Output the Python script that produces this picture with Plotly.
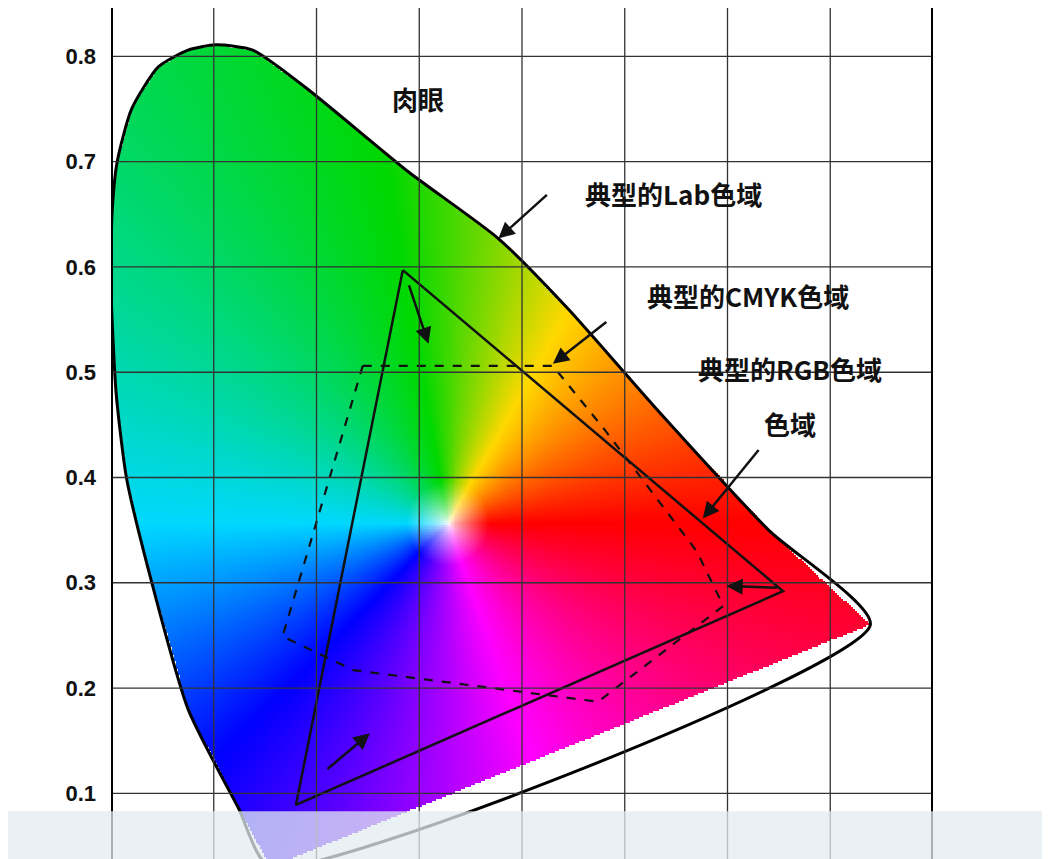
import numpy as np
import plotly.graph_objects as go

# spectral locus (x, y chromaticity)
locus_x = [0.155, 0.124, 0.075, 0.036, 0.015, 0.005, 0.000, 0.001, 0.006, 0.020, 0.046, 0.075,
           0.102, 0.138, 0.190, 0.290, 0.377, 0.445, 0.530, 0.640, 0.739]
locus_y = [0.030, 0.086, 0.180, 0.314, 0.400, 0.480, 0.580, 0.650, 0.700, 0.750, 0.790, 0.806,
           0.811, 0.806, 0.770, 0.690, 0.627, 0.560, 0.466, 0.350, 0.260]

rgb_x = [0.284, 0.654, 0.180, 0.284]
rgb_y = [0.597, 0.292, 0.089, 0.597]

cmyk_x = [0.245, 0.430, 0.480, 0.570, 0.596, 0.474, 0.236, 0.167, 0.245]
cmyk_y = [0.506, 0.506, 0.446, 0.330, 0.278, 0.187, 0.217, 0.249, 0.506]

white_x, white_y = 0.328, 0.356

# colour fill: hue by angle around the white point, clipped to the locus
nx, ny = 420, 430
x0, x1, y0, y1 = 0.0, 0.8, 0.03, 0.846
dx = (x1 - x0) / nx
dy = (y1 - y0) / ny
gx, gy = np.meshgrid(x0 + dx * (np.arange(nx) + 0.5), y0 + dy * (np.arange(ny) + 0.5))

px = np.array(locus_x + [locus_x[0]])
py = np.array(locus_y + [locus_y[0]])
inside = np.zeros(gx.shape, bool)
for i in range(len(px) - 1):
    xa, ya, xb, yb = px[i], py[i], px[i + 1], py[i + 1]
    cond = (ya > gy) != (yb > gy)
    xint = xa + (gy - ya) * (xb - xa) / (yb - ya + 1e-12)
    inside ^= cond & (gx < xint)

ang = np.degrees(np.arctan2(gy - white_y, gx - white_x)) % 360
hue = np.interp(ang, [0, 60, 100, 180, 225, 290, 360], [0, 60, 120, 180, 240, 300, 360]) % 360
sat = np.clip(np.hypot(gx - white_x, gy - white_y) / 0.04, 0, 1) ** 0.7
h6 = hue / 60.0
c = sat
xx = c * (1 - np.abs(h6 % 2 - 1))
m = 1 - c
r = np.select([h6 < 1, h6 < 2, h6 < 3, h6 < 4, h6 < 5], [c, xx, 0, 0, xx], c)
g = np.select([h6 < 1, h6 < 2, h6 < 3, h6 < 4, h6 < 5], [xx, c, c, xx, 0], 0)
b = np.select([h6 < 1, h6 < 2, h6 < 3, h6 < 4, h6 < 5], [0, 0, xx, c, c], xx)
img = np.stack([r + m, g * 0.85 + m, b + m], -1) * 255
img[~inside] = 255
img = np.clip(img, 0, 255).astype(np.uint8)

fig = go.Figure()
fig.add_trace(go.Image(z=img, x0=x0 + dx / 2, dx=dx, y0=y0 + dy / 2, dy=dy, hoverinfo="skip"))
fig.add_trace(go.Scatter(x=locus_x + [locus_x[0]], y=locus_y + [locus_y[0]], mode="lines",
                         line=dict(color="black", width=3, shape="spline", smoothing=0.6),
                         hoverinfo="skip"))
fig.add_trace(go.Scatter(x=rgb_x, y=rgb_y, mode="lines", line=dict(color="#111", width=2.5)))
fig.add_trace(go.Scatter(x=cmyk_x, y=cmyk_y, mode="lines",
                         line=dict(color="#111", width=2.2, dash="dash")))

# grid over the colours
for v in np.arange(1, 8) / 10:
    fig.add_shape(type="line", x0=v, x1=v, y0=y0, y1=y1, line=dict(color="#333", width=1.3),
                  layer="above")
for v in np.arange(1, 9) / 10:
    fig.add_shape(type="line", x0=0, x1=0.8, y0=v, y1=v, line=dict(color="#333", width=1.3),
                  layer="above")
for v in [0, 0.8]:
    fig.add_shape(type="line", x0=v, x1=v, y0=y0, y1=y1, line=dict(color="black", width=4),
                  layer="above")

font = dict(family="Noto Sans CJK SC", size=26, color="#111", weight="bold")
texts = [("肉眼", 0.299, 0.760), ("典型的Lab色域", 0.547, 0.670), ("典型的CMYK色域", 0.620, 0.573),
         ("典型的RGB色域", 0.661, 0.504), ("色域", 0.661, 0.451)]
for t, tx, ty in texts:
    fig.add_annotation(x=tx, y=ty, text=t, showarrow=False, font=font)
arrows = [(0.377, 0.627, 50, -45), (0.430, 0.508, 55, -43), (0.576, 0.361, 57, -70),
          (0.309, 0.527, -20, -60), (0.252, 0.157, -44, 37), (0.599, 0.297, 52, 2)]
for hx, hy, ax, ay in arrows:
    fig.add_annotation(x=hx, y=hy, ax=ax, ay=ay, text="", showarrow=True, arrowhead=2,
                       arrowsize=1.3, arrowwidth=2.5, arrowcolor="#111")

# photo artefact band at the bottom
fig.add_shape(type="rect", xref="paper", yref="paper", x0=-0.2, x1=1.2, y0=-0.01, y1=0.065,
              fillcolor="rgba(225,236,242,0.75)", line_width=0, layer="above")
fig.add_shape(type="rect", xref="paper", yref="paper", x0=-0.2, x1=1.2, y0=-0.01, y1=0.008,
              fillcolor="rgba(110,185,225,0.9)", line_width=0, layer="above")

fig.update_layout(
    width=1050, height=859, margin=dict(l=103, r=125, t=0, b=0),
    plot_bgcolor="white", paper_bgcolor="white", showlegend=False,
    xaxis=dict(range=[x0, x1], showticklabels=False, showgrid=False, zeroline=False,
               constrain="range"),
    yaxis=dict(range=[y0, y1], dtick=0.1, tick0=0, showgrid=False, zeroline=False, ticks="",
               scaleanchor=False, constrain="range", autorange=False,
               tickfont=dict(family="Liberation Sans", size=22, color="#111", weight="bold"),
               ticklabelstandoff=14, showline=False),
)
fig.write_html("out.html")
